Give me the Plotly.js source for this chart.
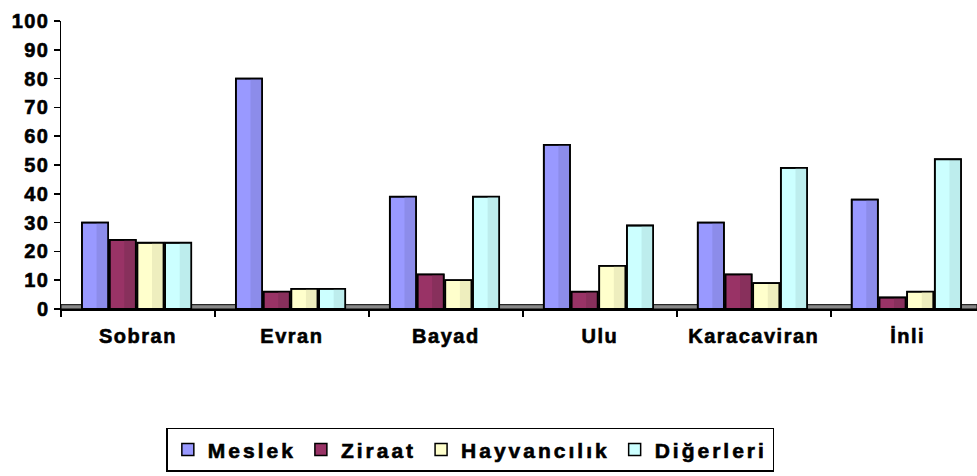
<!DOCTYPE html>
<html>
<head>
<meta charset="utf-8">
<script src="https://cdn.plot.ly/plotly-3.0.1.min.js"></script>
<style>
  html, body { margin: 0; padding: 0; background: #fff; }
  #chart { width: 977px; height: 476px; }
  .xtick text, .ytick text { letter-spacing: 1.5px; font-weight: 700 !important; stroke: #000; stroke-width: 0.6px; }
  .legendtext { letter-spacing: 3px; font-weight: 700 !important; stroke: #000; stroke-width: 0.6px; }
</style>
</head>
<body>
<div id="chart"></div>
<script>
const categories = ["Sobran", "Evran", "Bayad", "Ulu", "Karacaviran", "İnli"];
const seriesNames = ["Meslek", "Ziraat", "Hayvancılık", "Diğerleri"];
const meslek      = [30, 80, 39, 57, 30, 38];
const ziraat      = [24, 6, 12, 6, 12, 4];
const hayvancilik = [23, 7, 10, 15, 9, 6];
const digerleri   = [23, 7, 39, 29, 49, 52];
const seriesValues = [meslek, ziraat, hayvancilik, digerleri];

const faceColors  = ["#9999FF", "#993366", "#FFFFCC", "#CCFFFF"];
const shadeColors = ["#8C8CEA", "#88305C", "#EEEEBE", "#BDEDED"];

const FONT = "'Liberation Sans', Arial, sans-serif";
const pitch = 0.18, barW = 0.17, start = -0.364, stripeW = 0.075;

const traces = [];
// fill layer (with legend)
seriesNames.forEach((name, i) => {
  traces.push({
    type: "bar", name: name, x: categories, y: seriesValues[i],
    offset: start + i * pitch, width: barW,
    marker: { color: faceColors[i], line: { color: "#000", width: 1.5 } },
    hoverinfo: "x+y+name"
  });
});
// shaded right side
seriesNames.forEach((name, i) => {
  traces.push({
    type: "bar", name: name + " shade", x: categories, y: seriesValues[i],
    offset: start + i * pitch + barW - stripeW, width: stripeW,
    marker: { color: shadeColors[i], line: { width: 0 } },
    showlegend: false, hoverinfo: "skip"
  });
});
// outline on top
seriesNames.forEach((name, i) => {
  traces.push({
    type: "bar", name: name + " edge", x: categories, y: seriesValues[i],
    offset: start + i * pitch, width: barW,
    marker: { color: "rgba(0,0,0,0)", line: { color: "#000", width: 1.8 } },
    showlegend: false, hoverinfo: "skip"
  });
});

const layout = {
  width: 977, height: 476,
  margin: { l: 61, r: 0, t: 21, b: 167, pad: 0 },
  paper_bgcolor: "#fff", plot_bgcolor: "#fff",
  barmode: "overlay",
  showlegend: true,
  font: { family: FONT, color: "#000", size: 20, weight: 700 },
  xaxis: {
    type: "category", range: [-0.5, 5.45],
    tickson: "boundaries", ticks: "outside", ticklen: 6, tickwidth: 1.5, tickcolor: "#000",
    showline: true, linecolor: "#000", linewidth: 1.5,
    showgrid: false, zeroline: false,
    ticklabelstandoff: 8,
    tickfont: { family: FONT, size: 20, color: "#000", weight: 700 },
    fixedrange: true
  },
  yaxis: {
    range: [0, 100], dtick: 10, tick0: 0,
    ticks: "outside", ticklen: 6, tickwidth: 1.5, tickcolor: "#000",
    showline: true, linecolor: "#000", linewidth: 1.5,
    showgrid: false, zeroline: false,
    tickfont: { family: FONT, size: 20, color: "#000", weight: 700 },
    fixedrange: true
  },
  legend: {
    orientation: "h",
    x: 0.115, xanchor: "left",
    y: -0.413, yanchor: "top",
    bgcolor: "#fff", bordercolor: "#000", borderwidth: 1.5,
    font: { family: FONT, size: 21, color: "#000", weight: 700 },
    traceorder: "normal"
  },
  shapes: [{
    type: "rect", xref: "paper", yref: "y", x0: 0, x1: 1, y0: 0, y1: 1.5,
    fillcolor: "#888888", line: { color: "#000", width: 1 }, layer: "below"
  }]
};

Plotly.newPlot("chart", traces, layout, { displayModeBar: false, staticPlot: true });
</script>
</body>
</html>
